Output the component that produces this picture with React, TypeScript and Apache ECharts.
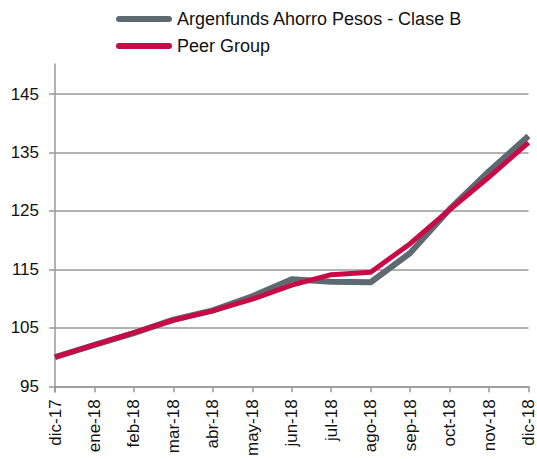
import React, { useEffect, useRef } from "react";
import * as echarts from "echarts";

const categories = ["dic-17", "ene-18", "feb-18", "mar-18", "abr-18", "may-18", "jun-18", "jul-18", "ago-18", "sep-18", "oct-18", "nov-18", "dic-18"];
const fundValues = [100, 102.1, 104.1, 106.4, 108.0, 110.4, 113.3, 112.9, 112.8, 117.8, 125.3, 131.8, 137.8];
const peerValues = [100, 102.1, 104.2, 106.3, 107.9, 109.9, 112.3, 114.1, 114.5, 119.4, 125.2, 130.8, 136.7];
const seriesNames = ["Argenfunds Ahorro Pesos - Clase B", "Peer Group"];
const yMin = 95;
const yMax = 145;
const yInterval = 10;

const FONT = "'Liberation Sans', Arial, sans-serif";
const GRAY = "#5e6a71";
const RED = "#c80a46";
const AXIS = "#999999";
const capsule = "path://M3,0 L53,0 A3,3 0 0 1 53,6 L3,6 A3,3 0 0 1 3,0 Z";

export default function App() {
  const ref = useRef<HTMLDivElement>(null);
  useEffect(() => {
    if (!ref.current) return;
    const chart = echarts.init(ref.current, undefined, { renderer: "svg" });
    chart.setOption({
      animation: false,
      backgroundColor: "#ffffff",
      textStyle: { fontFamily: FONT },
      legend: {
        orient: "vertical",
        left: 116,
        top: 9,
        padding: 0,
        itemWidth: 56,
        itemHeight: 6,
        itemGap: 7,
        data: [
          { name: seriesNames[0], icon: capsule },
          { name: seriesNames[1], icon: capsule },
        ],
        textStyle: { fontFamily: FONT, fontSize: 18, color: "#111", lineHeight: 20 },
      },
      grid: [
        { left: 55, right: 8, top: 94, bottom: 67 },
        { left: 55, right: 8, top: 64, bottom: 67 },
      ],
      xAxis: [
        {
          type: "category",
          gridIndex: 0,
          data: categories,
          boundaryGap: false,
          axisLine: { show: true, lineStyle: { color: AXIS, width: 1.5 } },
          axisTick: { show: true, length: 6, alignWithLabel: true, lineStyle: { color: AXIS, width: 1.5 } },
          axisLabel: { rotate: 90, margin: 13, fontSize: 17, color: "#111", fontFamily: FONT, interval: 0 },
          splitLine: { show: false },
        },
        { type: "category", gridIndex: 1, data: categories, show: false },
      ],
      yAxis: [
        {
          type: "value",
          gridIndex: 0,
          min: yMin,
          max: yMax,
          interval: yInterval,
          axisLine: { show: false },
          axisTick: { show: true, length: 6, lineStyle: { color: AXIS, width: 1.5 } },
          axisLabel: { margin: 16, fontSize: 17, color: "#111", fontFamily: FONT },
          splitLine: { show: true, lineStyle: { color: AXIS, width: 1.5 } },
        },
        {
          type: "value",
          gridIndex: 1,
          min: 0,
          max: 1,
          axisLine: { show: true, lineStyle: { color: AXIS, width: 1.5 } },
          axisTick: { show: false },
          axisLabel: { show: false },
          splitLine: { show: false },
        },
      ],
      series: [
        {
          name: seriesNames[0],
          type: "line",
          xAxisIndex: 0,
          yAxisIndex: 0,
          data: fundValues,
          symbol: "none",
          color: GRAY,
          lineStyle: { color: GRAY, width: 6, join: "round" },
        },
        {
          name: seriesNames[1],
          type: "line",
          xAxisIndex: 0,
          yAxisIndex: 0,
          data: peerValues,
          symbol: "none",
          color: RED,
          lineStyle: { color: RED, width: 5, join: "round" },
        },
      ],
    });
    return () => chart.dispose();
  }, []);
  return (
    <div
      ref={ref}
      style={{ position: "fixed", left: 0, top: 0, width: 537, height: 459, background: "#fff" }}
    />
  );
}
